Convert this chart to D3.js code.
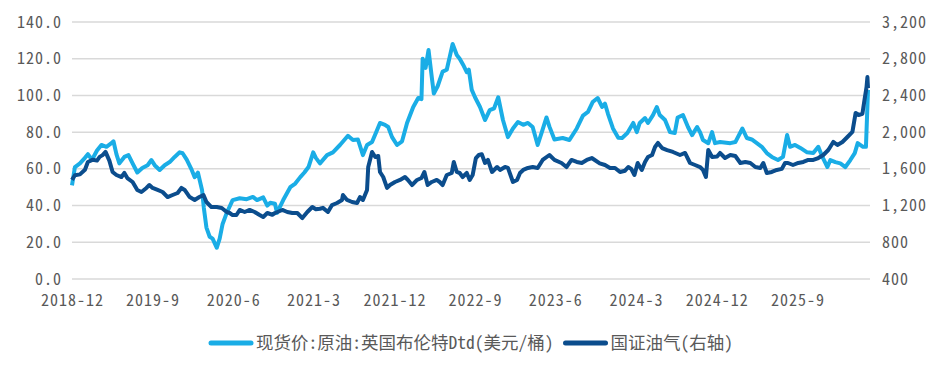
<!DOCTYPE html>
<html>
<head>
<meta charset="utf-8">
<script src="https://cdn.jsdelivr.net/npm/d3@7"></script>
<style>
    body { margin: 0; background: #fff; }
    svg text { font-family: "Noto Sans Mono CJK SC", "Noto Sans CJK SC", sans-serif; fill: #595959; }
</style>
</head>
<body>
<svg id="chart" width="942" height="372"></svg>
<script>
// 现货价:原油:英国布伦特Dtd (美元/桶), left axis
const brentPoints = [
    ["2018-12-01",51],["2018-12-11",61],["2018-12-28",63],["2019-01-14",66],["2019-01-24",68],["2019-02-07",65],
    ["2019-02-24",70],["2019-03-11",73],["2019-03-28",72],["2019-04-14",74],["2019-04-21",75],["2019-05-01",68],
    ["2019-05-11",63],["2019-05-28",66.5],["2019-06-11",67.5],["2019-06-25",63],["2019-07-11",58],["2019-07-28",60.5],
    ["2019-08-15",62],["2019-08-28",64.8],["2019-09-08",62],["2019-09-25",59.4],["2019-10-12",62],["2019-10-29",63.7],
    ["2019-11-15",66.5],["2019-12-02",69],["2019-12-12",68.5],["2019-12-26",65],["2020-01-12",59.4],["2020-01-22",55.5],
    ["2020-02-02",58],["2020-02-16",48.5],["2020-02-22",39],["2020-03-02",28],["2020-03-13",23],["2020-03-23",22],
    ["2020-04-06",17],["2020-04-16",22],["2020-04-26",30],["2020-05-10",36],["2020-05-20",39.5],["2020-05-30",43],
    ["2020-06-23",44],["2020-07-17",43.5],["2020-08-07",44.7],["2020-08-21",43],["2020-09-11",44.5],["2020-09-25",40],
    ["2020-10-05",41.5],["2020-10-21",41],["2020-10-28",36],["2020-11-18",43],["2020-12-12",50],["2020-12-29",52],
    ["2021-01-15",55.5],["2021-01-29",58],["2021-02-12",61],["2021-02-28",69],["2021-03-09",66],["2021-03-23",63],
    ["2021-04-16",67.5],["2021-05-06",69],["2021-05-30",73],["2021-06-26",78],["2021-07-13",75.7],["2021-07-30",76],
    ["2021-08-16",67.5],["2021-08-30",73],["2021-09-16",74.6],["2021-09-30",80],["2021-10-13",85],["2021-10-30",84],
    ["2021-11-10",82.8],["2021-11-23",77.3],["2021-12-10",73],["2021-12-27",75],["2022-01-13",85],["2022-02-03",93.7],
    ["2022-02-20",98.6],["2022-03-03",98],["2022-03-07",120],["2022-03-17",115],["2022-03-27",124.7],["2022-04-07",110],
    ["2022-04-14",101],["2022-04-27",105],["2022-05-14",113],["2022-05-28",114],["2022-06-07",121],["2022-06-17",128],
    ["2022-07-01",122],["2022-07-11",120],["2022-07-25",116],["2022-08-04",112.7],["2022-08-11",114],["2022-08-21",103],
    ["2022-09-01",99],["2022-09-18",93.7],["2022-10-05",86.6],["2022-10-21",92],["2022-11-05",93],["2022-11-19",99],
    ["2022-12-05",86.6],["2022-12-22",77.3],["2023-01-08",82],["2023-01-25",85.5],["2023-02-12",84],["2023-02-28",85],
    ["2023-03-16",82.8],["2023-04-02",73],["2023-04-15",79.5],["2023-05-02",88],["2023-05-12",83],["2023-05-29",76],
    ["2023-06-26",76.8],["2023-07-19",75.7],["2023-08-13",82],["2023-09-03",89],["2023-09-20",91],["2023-10-06",96.4],
    ["2023-10-23",98.6],["2023-11-07",93.7],["2023-11-17",95.5],["2023-11-27",90],["2023-12-14",82],["2024-01-01",77],
    ["2024-01-14",76.8],["2024-02-01",79.5],["2024-02-21",85],["2024-03-04",80],["2024-03-14",85],["2024-04-01",87.7],
    ["2024-04-11",85],["2024-04-28",89.3],["2024-05-11",93.7],["2024-05-21",89.3],["2024-06-08",86.6],["2024-06-25",80],
    ["2024-07-11",79.5],["2024-07-21",88],["2024-08-08",89.3],["2024-08-25",82.8],["2024-09-08",78.4],["2024-09-25",82.8],
    ["2024-10-05",80],["2024-10-15",75.7],["2024-11-02",74],["2024-11-15",80],["2024-11-25",74],["2024-12-12",74.6],
    ["2025-01-16",74],["2025-02-02",74.6],["2025-02-26",82],["2025-03-13",76.8],["2025-03-30",76],["2025-04-16",74],
    ["2025-05-03",72],["2025-05-20",68.6],["2025-06-06",66.5],["2025-06-27",64.8],["2025-07-14",66.5],["2025-07-28",78.4],
    ["2025-08-07",72],["2025-08-24",73],["2025-09-11",71.4],["2025-10-04",69],["2025-10-25",68.6],["2025-11-11",72],
    ["2025-11-25",66.5],["2025-12-12",61],["2025-12-22",64.8],["2026-01-08",63.7],["2026-01-25",63],["2026-02-11",61],
    ["2026-02-28",64.8],["2026-03-15",68.6],["2026-03-25",74],["2026-04-12",72],["2026-04-22",72],["2026-04-29",103]
];

// 国证油气, right axis
const oilGasPoints = [
    ["2018-12-01",1480],["2018-12-11",1530],["2018-12-28",1540],["2019-01-14",1590],["2019-01-24",1675],["2019-02-10",1700],
    ["2019-02-24",1690],["2019-03-05",1730],["2019-03-15",1750],["2019-03-25",1785],["2019-04-07",1690],["2019-04-18",1566],
    ["2019-05-01",1533],["2019-05-18",1511],["2019-05-28",1555],["2019-06-07",1500],["2019-06-25",1457],["2019-07-11",1370],
    ["2019-07-25",1348],["2019-08-11",1392],["2019-08-21",1424],["2019-09-01",1392],["2019-09-18",1370],["2019-10-05",1348],
    ["2019-10-22",1293],["2019-11-08",1315],["2019-11-25",1337],["2019-12-08",1392],["2019-12-19",1370],["2020-01-05",1293],
    ["2020-01-22",1261],["2020-02-07",1293],["2020-02-21",1315],["2020-03-02",1239],["2020-03-19",1184],["2020-04-06",1184],
    ["2020-04-23",1173],["2020-05-10",1130],["2020-05-20",1119],["2020-05-30",1097],["2020-06-12",1097],["2020-06-23",1152],
    ["2020-07-10",1130],["2020-07-27",1152],["2020-08-13",1130],["2020-08-30",1097],["2020-09-11",1075],["2020-09-25",1119],
    ["2020-10-12",1100],["2020-10-21",1119],["2020-11-15",1152],["2020-12-02",1130],["2020-12-19",1119],["2021-01-05",1119],
    ["2021-01-22",1064],["2021-02-08",1130],["2021-02-25",1184],["2021-03-09",1160],["2021-03-23",1165],["2021-04-02",1175],
    ["2021-04-19",1130],["2021-05-03",1206],["2021-05-20",1228],["2021-06-06",1261],["2021-06-09",1315],["2021-06-23",1261],
    ["2021-07-10",1239],["2021-07-27",1228],["2021-08-06",1293],["2021-08-16",1261],["2021-08-30",1370],["2021-09-03",1620],
    ["2021-09-16",1784],["2021-09-27",1729],["2021-10-07",1740],["2021-10-13",1566],["2021-10-24",1511],["2021-11-06",1392],
    ["2021-11-16",1424],["2021-12-03",1457],["2021-12-20",1479],["2022-01-06",1511],["2022-01-16",1479],["2022-01-30",1424],
    ["2022-02-16",1479],["2022-03-03",1500],["2022-03-13",1566],["2022-03-24",1424],["2022-04-07",1457],["2022-04-24",1479],
    ["2022-05-04",1457],["2022-05-14",1424],["2022-05-28",1533],["2022-06-14",1555],["2022-06-21",1675],["2022-07-01",1566],
    ["2022-07-11",1555],["2022-07-21",1511],["2022-08-04",1555],["2022-08-14",1479],["2022-08-24",1533],["2022-09-04",1718],
    ["2022-09-14",1751],["2022-09-24",1760],["2022-10-05",1664],["2022-10-15",1697],["2022-10-29",1566],["2022-11-15",1620],
    ["2022-11-25",1588],["2022-12-12",1620],["2022-12-22",1610],["2023-01-08",1457],["2023-01-22",1479],["2023-02-01",1555],
    ["2023-02-12",1588],["2023-02-28",1610],["2023-03-16",1620],["2023-04-02",1610],["2023-04-19",1697],["2023-05-12",1751],
    ["2023-05-29",1697],["2023-06-22",1664],["2023-07-09",1620],["2023-07-26",1697],["2023-08-13",1675],["2023-08-30",1664],
    ["2023-09-16",1697],["2023-10-03",1718],["2023-10-13",1697],["2023-10-30",1660],["2023-11-17",1642],["2023-12-04",1610],
    ["2023-12-21",1610],["2024-01-07",1566],["2024-01-24",1580],["2024-02-04",1620],["2024-02-14",1600],["2024-02-25",1533],
    ["2024-03-07",1664],["2024-03-21",1588],["2024-04-01",1675],["2024-04-11",1729],["2024-04-25",1751],["2024-05-05",1838],
    ["2024-05-15",1882],["2024-05-29",1827],["2024-06-15",1805],["2024-07-05",1784],["2024-07-29",1751],["2024-08-15",1773],
    ["2024-09-01",1664],["2024-09-18",1642],["2024-10-05",1620],["2024-10-15",1588],["2024-10-25",1511],["2024-11-02",1805],
    ["2024-11-15",1729],["2024-12-02",1735],["2024-12-12",1773],["2024-12-29",1718],["2025-01-16",1751],["2025-02-02",1740],
    ["2025-02-19",1664],["2025-03-08",1675],["2025-03-25",1664],["2025-04-11",1620],["2025-04-28",1610],["2025-05-08",1664],
    ["2025-05-20",1555],["2025-06-06",1566],["2025-06-23",1588],["2025-07-10",1600],["2025-07-21",1664],["2025-07-31",1664],
    ["2025-08-17",1642],["2025-09-04",1664],["2025-09-21",1675],["2025-10-08",1697],["2025-10-25",1697],["2025-11-11",1718],
    ["2025-11-28",1751],["2025-12-15",1805],["2026-01-01",1893],["2026-01-15",1860],["2026-02-01",1893],["2026-02-18",1947],
    ["2026-03-07",2002],["2026-03-18",2209],["2026-03-28",2187],["2026-04-10",2200],["2026-04-17",2350],["2026-04-24",2490],
    ["2026-04-27",2600],["2026-04-29",2480]
];

const xTickLabels = ["2018-12", "2019-9", "2020-6", "2021-3", "2021-12", "2022-9", "2023-6", "2024-3", "2024-12", "2025-9"];
const leftTicks = [0, 20, 40, 60, 80, 100, 120, 140];
const rightTicks = [400, 800, 1200, 1600, 2000, 2400, 2800, 3200];
const seriesNames = ["现货价:原油:英国布伦特Dtd(美元/桶)", "国证油气(右轴)"];
const seriesColors = ["#1AADE6", "#0B4D8D"];

const svg = d3.select("#chart");
const parse = d3.timeParse("%Y-%m-%d");
const parseTick = d3.timeParse("%Y-%m");

const plotLeft = 72, plotRight = 870, plotTop = 22, plotBottom = 279;

const x = d3.scaleTime()
    .domain([new Date(2018, 11, 1), new Date(2026, 3, 29)])
    .range([plotLeft, 868]);
const yLeft = d3.scaleLinear().domain([0, 140]).range([plotBottom, plotTop]);
const yRight = d3.scaleLinear().domain([400, 3200]).range([plotBottom, plotTop]);

// gridlines
svg.append("g")
    .selectAll("line")
    .data(leftTicks)
    .join("line")
    .attr("x1", plotLeft).attr("x2", plotRight)
    .attr("y1", d => yLeft(d)).attr("y2", d => yLeft(d))
    .attr("stroke", "#d9d9d9")
    .attr("stroke-width", 1.5);

const styleTicks = g => g.selectAll("text")
    .attr("font-size", 16)
    .attr("letter-spacing", "1px")
    .attr("fill", "#595959");

svg.append("g")
    .attr("transform", `translate(${plotLeft},0)`)
    .call(d3.axisLeft(yLeft).tickValues(leftTicks).tickFormat(d3.format(".1f")).tickSize(0).tickPadding(10))
    .call(g => g.select(".domain").remove())
    .call(styleTicks);

svg.append("g")
    .attr("transform", `translate(${plotRight},0)`)
    .call(d3.axisRight(yRight).tickValues(rightTicks).tickFormat(d3.format(",")).tickSize(0).tickPadding(12))
    .call(g => g.select(".domain").remove())
    .call(styleTicks);

svg.append("g")
    .attr("transform", `translate(0,${plotBottom})`)
    .call(d3.axisBottom(x).tickValues(xTickLabels.map(parseTick)).tickFormat(d => `${d.getFullYear()}-${d.getMonth() + 1}`).tickSize(0).tickPadding(16))
    .call(g => g.select(".domain").remove())
    .call(styleTicks);

// lines
const brentLine = d3.line()
    .x(d => x(parse(d[0])))
    .y(d => yLeft(d[1]));
const oilGasLine = d3.line()
    .x(d => x(parse(d[0])))
    .y(d => yRight(d[1]));

svg.append("path")
    .attr("d", brentLine(brentPoints))
    .attr("fill", "none")
    .attr("stroke", seriesColors[0])
    .attr("stroke-width", 4)
    .attr("stroke-linejoin", "round");

svg.append("path")
    .attr("d", oilGasLine(oilGasPoints))
    .attr("fill", "none")
    .attr("stroke", seriesColors[1])
    .attr("stroke-width", 4)
    .attr("stroke-linejoin", "round");

// legend, centred
const legend = svg.append("g");
let cursor = 0;
seriesNames.forEach((name, i) => {
    const item = legend.append("g").attr("transform", `translate(${cursor},0)`);
    item.append("line")
        .attr("x1", 2).attr("x2", 42)
        .attr("y1", 0).attr("y2", 0)
        .attr("stroke", seriesColors[i])
        .attr("stroke-width", 5)
        .attr("stroke-linecap", "round");
    const t = item.append("text")
        .attr("x", 47)
        .attr("dy", "0.35em")
        .attr("font-size", 17.5)
        .text(name);
    cursor += 47 + t.node().getComputedTextLength() + 10;
});
legend.attr("transform", `translate(${471 - (cursor - 10) / 2},343)`);
</script>
</body>
</html>
